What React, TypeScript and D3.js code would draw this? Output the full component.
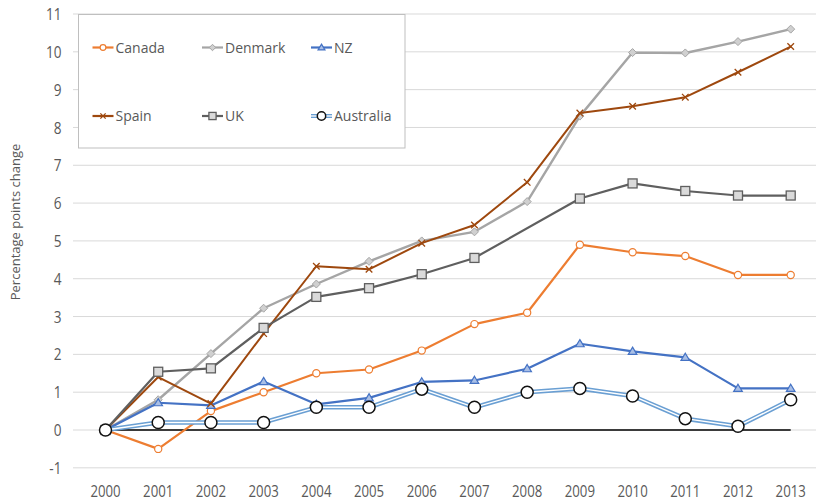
import React from "react";
import * as d3 from "d3";

const years = [2000, 2001, 2002, 2003, 2004, 2005, 2006, 2007, 2008, 2009, 2010, 2011, 2012, 2013];
const canada = [0, -0.5, 0.5, 1.0, 1.5, 1.6, 2.1, 2.8, 3.1, 4.9, 4.7, 4.6, 4.1, 4.1];
const denmark = [0, 0.8, 2.02, 3.22, 3.86, 4.46, 5.0, 5.24, 6.04, 8.3, 9.98, 9.97, 10.27, 10.6];
const nz = [0, 0.72, 0.65, 1.28, 0.68, 0.85, 1.27, 1.31, 1.62, 2.28, 2.08, 1.92, 1.1, 1.1];
const spain = [0, 1.4, 0.7, 2.55, 4.33, 4.25, 4.94, 5.42, 6.55, 8.38, 8.56, 8.8, 9.46, 10.14];
const uk: (number | null)[] = [0, 1.54, 1.63, 2.7, 3.52, 3.75, 4.12, 4.55, null, 6.12, 6.52, 6.32, 6.2, 6.2];
const australia = [0, 0.2, 0.2, 0.2, 0.6, 0.6, 1.08, 0.6, 1.0, 1.1, 0.9, 0.3, 0.1, 0.8];
const yTicks = [-1, 0, 1, 2, 3, 4, 5, 6, 7, 8, 9, 10, 11];

const FONT = "'Open Sans', 'Noto Sans', 'Liberation Sans', sans-serif";
const TXT = "#595959";

type Marker = "circle" | "diamond" | "triangle" | "x" | "square" | "bigcircle";

const series: { name: string; values: (number | null)[]; color: string; width: number; marker: Marker; fill: string; mstroke: string }[] = [
  { name: "Canada", values: canada, color: "#ED7D31", width: 2.2, marker: "circle", fill: "#ffffff", mstroke: "#ED7D31" },
  { name: "Denmark", values: denmark, color: "#A5A5A5", width: 2.4, marker: "diamond", fill: "#d0d0d0", mstroke: "#A5A5A5" },
  { name: "NZ", values: nz, color: "#4472C4", width: 2.2, marker: "triangle", fill: "#a9bfe6", mstroke: "#4472C4" },
  { name: "Spain", values: spain, color: "#9E480E", width: 2.0, marker: "x", fill: "none", mstroke: "#9E480E" },
  { name: "UK", values: uk, color: "#5f5f5f", width: 2.2, marker: "square", fill: "#dadada", mstroke: "#5f5f5f" },
  { name: "Australia", values: australia, color: "#6a9fd3", width: 4.5, marker: "bigcircle", fill: "#ffffff", mstroke: "#111111" },
];

function MarkerShape({ type, x, y, fill, stroke, k = 1 }: { type: Marker; x: number; y: number; fill: string; stroke: string; k?: number }) {
  switch (type) {
    case "circle":
      return <circle cx={x} cy={y} r={3.6 * k} fill={fill} stroke={stroke} strokeWidth={1.2} />;
    case "diamond":
      return <path d={`M${x},${y - 4 * k} L${x + 4 * k},${y} L${x},${y + 4 * k} L${x - 4 * k},${y} Z`} fill={fill} stroke={stroke} strokeWidth={1} />;
    case "triangle":
      return <path d={`M${x},${y - 4.2 * k} L${x + 4.3 * k},${y + 3 * k} L${x - 4.3 * k},${y + 3 * k} Z`} fill={fill} stroke={stroke} strokeWidth={1.2} />;
    case "x":
      return (
        <path d={`M${x - 3.3 * k},${y - 3.3 * k} L${x + 3.3 * k},${y + 3.3 * k} M${x + 3.3 * k},${y - 3.3 * k} L${x - 3.3 * k},${y + 3.3 * k}`} stroke={stroke} strokeWidth={1.3} fill="none" />
      );
    case "square":
      return <rect x={x - 4.5 * k} y={y - 4.5 * k} width={9 * k} height={9 * k} fill={fill} stroke={stroke} strokeWidth={1.3} />;
    case "bigcircle":
      return <circle cx={x} cy={y} r={6 * k} fill={fill} stroke={stroke} strokeWidth={1.5} />;
  }
}

export default function App() {
  const W = 816, H = 502;
  const x = d3.scaleLinear().domain([2000, 2013]).range([105.5, 790.7]);
  const y = d3.scaleLinear().domain([0, 11]).range([430, 14]);
  const gridX0 = 73, gridX1 = 816;

  const lineGen = d3
    .line<[number, number]>()
    .x((d) => x(d[0]))
    .y((d) => y(d[1]));

  const pts = (vals: (number | null)[]) =>
    years.map((yr, i) => [yr, vals[i]] as [number, number | null]).filter((p) => p[1] !== null) as [number, number][];

  const legendCols = [92.5, 202, 311];
  const legendRows = [47.5, 116];
  const SX = 0.8;

  return (
    <svg width={W} height={H} style={{ position: "absolute", left: 0, top: 0, background: "#fff" }} fontFamily={FONT}>
      {/* gridlines */}
      {yTicks.map((t) => (
        <line key={t} x1={gridX0} x2={gridX1} y1={y(t)} y2={y(t)} stroke="#d9d9d9" strokeWidth={1} />
      ))}
      {/* y tick labels */}
      {yTicks.map((t) => (
        <text key={t} transform={`translate(61.5,${y(t)}) scale(${SX},1)`} dy="0.36em" textAnchor="end" fontSize={17} fill={TXT}>
          {t}
        </text>
      ))}
      {/* x tick labels */}
      {years.map((yr) => (
        <text key={yr} transform={`translate(${x(yr)},491.5) scale(${SX},1)`} dy="0.36em" textAnchor="middle" fontSize={16.5} fill={TXT}>
          {yr}
        </text>
      ))}
      {/* y axis title */}
      <text transform={`translate(15,222) rotate(-90)`} textAnchor="middle" dy="0.35em" fontSize={13} fill={TXT}>
        Percentage points change
      </text>

      {/* zero line */}
      <line x1={x(2000)} x2={x(2013)} y1={y(0)} y2={y(0)} stroke="#000" strokeWidth={1.3} />

      {/* series */}
      {series.map((s) => {
        const p = pts(s.values);
        return (
          <g key={s.name}>
            <path d={lineGen(p) || ""} fill="none" stroke={s.color} strokeWidth={s.width} strokeLinejoin="round" />
            {s.marker === "bigcircle" && (
              <path d={lineGen(p) || ""} fill="none" stroke="#ffffff" strokeWidth={1.4} strokeLinejoin="round" />
            )}
            {p.map((d, i) => (
              <MarkerShape key={i} type={s.marker} x={x(d[0])} y={y(d[1])} fill={s.fill} stroke={s.mstroke} />
            ))}
          </g>
        );
      })}

      {/* legend */}
      <rect x={78.5} y={14.5} width={326.5} height={133.5} fill="#ffffff" stroke="#bfbfbf" strokeWidth={1} />
      {series.map((s, i) => {
        const cx = legendCols[i % 3];
        const cy = legendRows[Math.floor(i / 3)];
        const mx = cx + 10.5;
        return (
          <g key={s.name}>
            <line x1={cx} x2={cx + 21} y1={cy} y2={cy} stroke={s.color} strokeWidth={s.marker === "bigcircle" ? 4 : 2.2} />
            {s.marker === "bigcircle" && <line x1={cx} x2={cx + 21} y1={cy} y2={cy} stroke="#fff" strokeWidth={1.3} />}
            <MarkerShape type={s.marker} x={mx} y={cy} fill={s.fill} stroke={s.mstroke} k={s.marker === "bigcircle" ? 0.7 : 0.8} />
            <text x={cx + 23} y={cy} dy="0.36em" fontSize={14} fill={TXT}>
              {s.name}
            </text>
          </g>
        );
      })}
    </svg>
  );
}
